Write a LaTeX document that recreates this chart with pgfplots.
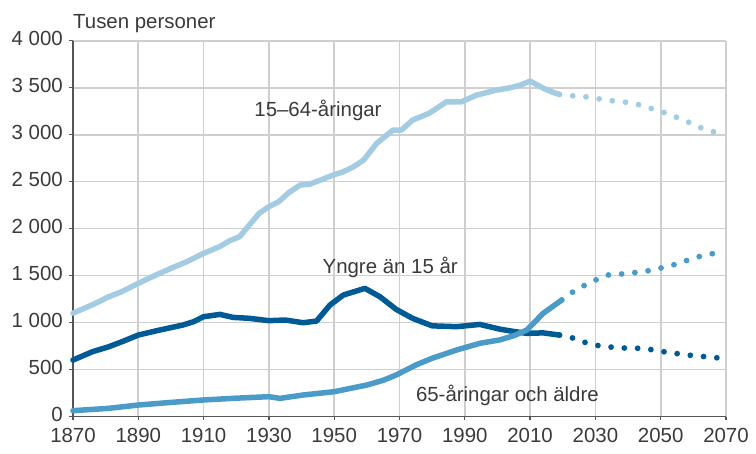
\documentclass[border=0pt]{standalone}
\usepackage{pgfplots}
\pgfplotsset{compat=1.18}
\usepackage{fontspec}
\setmainfont{Liberation Sans}
\definecolor{lightb}{HTML}{A3CCE3}
\definecolor{midb}{HTML}{4B9BC8}
\definecolor{darkb}{HTML}{005A96}
\definecolor{txt}{HTML}{3A3A3A}
\definecolor{axc}{HTML}{555555}
\definecolor{gridc}{HTML}{CFCFCF}
\begin{document}
\begin{tikzpicture}
\begin{axis}[
  at={(0,0)}, anchor=south west,
  scale only axis, width=653bp, height=375.8bp,
  xmin=1870, xmax=2070, ymin=0, ymax=4000,
  xtick={1870,1890,...,2070},
  xticklabels={1870,1890,1910,1930,1950,1970,1990,2010,2030,2050,2070},
  ytick={0,500,...,4000},
  yticklabels={0,500,1 000,1 500,2 000,2 500,3 000,3 500,4 000},
  grid=major, major grid style={gridc, line width=1.7bp},
  axis x line*=bottom, axis y line*=left,
  axis line style={-, axc, line width=1.6bp},
  tick align=outside, major tick length=4bp,
  tick style={axc, line width=1.3bp},
  every tick label/.append style={font=\fontsize{20.5}{20.5}\selectfont, text=txt, inner sep=0pt},
  yticklabel style={anchor=east, xshift=-6bp, yshift=2.5bp},
  xticklabel style={anchor=north, yshift=-8bp},
  clip=false,
]
% 15-64 solid
\addplot[lightb, line width=5.5bp, line join=round, line cap=round] coordinates {
(1870,1100) (1876,1190) (1881,1275) (1885,1330) (1890,1417) (1895,1500) (1900,1577)
(1905,1650) (1910,1736) (1915,1810) (1918,1871) (1921,1913) (1927,2162) (1930,2233)
(1933,2286) (1936,2380) (1939.5,2463) (1942.6,2474) (1946,2520) (1949.7,2570)
(1952.8,2605) (1956,2660) (1959,2729) (1963,2907) (1968,3049) (1970.6,3049)
(1974,3155) (1979,3226) (1984.4,3350) (1989,3350) (1993.6,3421) (1999.7,3474)
(2004,3500) (2007,3527) (2010,3570) (2014,3495) (2017,3450) (2019,3428)};
% 15-64 projection
\addplot[lightb, line width=5.8bp, line cap=round, dash pattern=on 0bp off 13.3bp] coordinates {
(2019,3428) (2024,3410) (2028,3400) (2032,3375) (2036,3357) (2040,3343) (2044,3314)
(2048,3268) (2052,3226) (2056,3169) (2060,3112) (2063,3062) (2068,3013)};
% Yngre solid
\addplot[darkb, line width=5.5bp, line join=round, line cap=round] coordinates {
(1870,601) (1876,690) (1881,743) (1885,796) (1890,867) (1896.5,920) (1903.6,973)
(1907,1010) (1910,1062) (1915,1087) (1919,1055) (1924,1045) (1930,1020) (1935,1027)
(1940.5,998) (1944.6,1016) (1948.7,1186) (1952.8,1293) (1959.4,1364) (1964,1275)
(1969,1140) (1974,1045) (1980,965) (1987.5,956) (1994.6,980) (2000.7,930)
(2005,905) (2009,885) (2014,890) (2019,867)};
\addplot[darkb, line width=5.8bp, line cap=round, dash pattern=on 0bp off 13.3bp] coordinates {
(2019,867) (2023.5,832) (2027.6,779) (2031.5,750) (2035.6,736) (2040,726) (2044,726)
(2048,708) (2052,683) (2056,665) (2060,647) (2064,636) (2069,619)};
% 65+ solid
\addplot[midb, line width=5.5bp, line join=round, line cap=round] coordinates {
(1870,62) (1881,87) (1890,122) (1900,150) (1910,176) (1920,195) (1930,211)
(1933.4,193) (1940.5,229) (1950,264) (1960,335) (1965,385) (1969,442) (1975,548)
(1980,620) (1987.5,708) (1994.6,779) (2000.7,815) (2005,860) (2009,920)
(2014,1098) (2019.7,1240)};
\addplot[midb, line width=5.8bp, line cap=round, dash pattern=on 0bp off 13.3bp] coordinates {
(2019.7,1240) (2022.7,1317) (2026.3,1389) (2030,1452) (2033.7,1506) (2037.8,1516)
(2041.6,1530) (2045.7,1548) (2049.6,1577) (2053.7,1612) (2057.5,1655) (2061.5,1700)
(2065.3,1729) (2069.4,1761)};
% labels
\node[anchor=base west, inner sep=0pt, text=txt, font=\fontsize{20.5}{20.5}\selectfont] at (axis cs:1925.5,3197) {15–64-åringar};
\node[anchor=base west, inner sep=0pt, text=txt, font=\fontsize{20.5}{20.5}\selectfont] at (axis cs:1946.4,1524) {Yngre än 15 år};
\node[anchor=base west, inner sep=0pt, text=txt, font=\fontsize{20.5}{20.5}\selectfont] at (axis cs:1975,157) {65-åringar och äldre};
\node[anchor=base west, inner sep=0pt, text=txt, font=\fontsize{20.5}{20.5}\selectfont] at ([yshift=12.7bp]rel axis cs:0,1) {Tusen personer};
\end{axis}
\pgfresetboundingbox
\path[use as bounding box] (-73bp,-37.5bp) rectangle (683bp,416.5bp);
\end{tikzpicture}
\end{document}
